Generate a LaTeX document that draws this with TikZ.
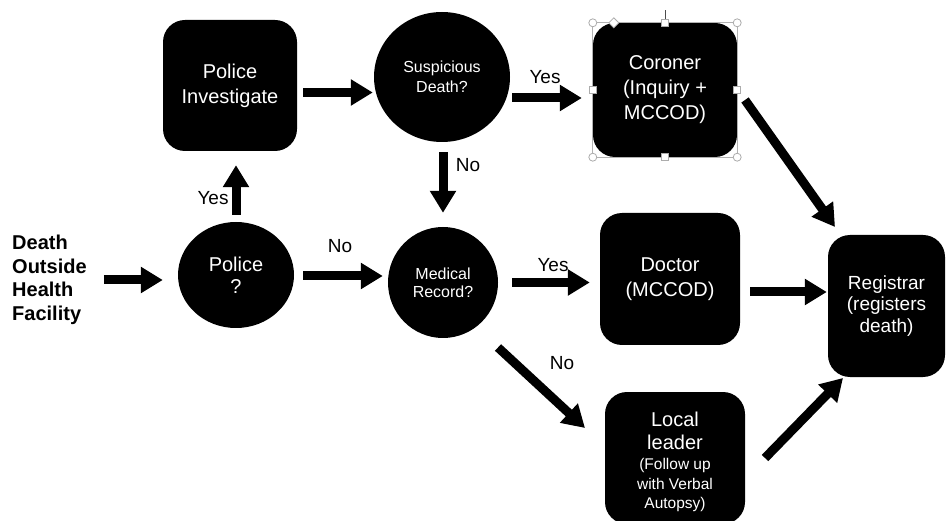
\documentclass[tikz,border=0pt]{standalone}
\usepackage{fontspec}
\setmainfont{Liberation Sans}
\usetikzlibrary{arrows.meta,shapes.geometric,calc}
\begin{document}
\begin{tikzpicture}[x=1pt,y=-1pt,
  box/.style={rectangle, rounded corners=22pt, fill=black, text=white, align=center, inner sep=0pt},
  oval/.style={ellipse, fill=black, text=white, align=center, inner sep=0pt},
  arr/.style={line width=9pt, -{Triangle[length=22pt,width=25pt]}},
  lbl/.style={font=\fontsize{19}{22}\selectfont, inner sep=0pt},
  big/.style={font=\fontsize{20}{25}\selectfont},
  small/.style={font=\fontsize{16}{19.5}\selectfont},
  handle/.style={draw=gray!65, fill=white, line width=0.8pt},
]
\useasboundingbox (0,0) rectangle (948,521);

\node[box, big, minimum width=134pt, minimum height=131pt] (pinv) at (230,85.5) {Police\\Investigate};
\node[oval, small, minimum width=136pt, minimum height=130pt] (susp) at (442,77) {Suspicious\\Death?};
\node[box, big, minimum width=144pt, minimum height=134pt] (cor) at (665,90) {Coroner\\(Inquiry +\\MCCOD)};
\node[oval, font=\fontsize{20}{22}\selectfont, minimum width=116pt, minimum height=106pt] (police) at (236,275) {Police\\?};
\node[oval, font=\fontsize{16}{18}\selectfont, minimum width=110pt, minimum height=111pt] (med) at (443,282.5) {Medical\\Record?};
\node[box, big, minimum width=140pt, minimum height=132pt] (doc) at (670,279) {Doctor\\(MCCOD)};
\node[box, minimum width=140pt, minimum height=132pt] (loc) at (675,458) {};
\node[text=white, align=center, inner sep=0pt, font=\fontsize{15.5}{19.5}\selectfont] (loctext) at (675,462)
  {{\fontsize{20}{23}\selectfont Local}\\[3.5pt]{\fontsize{20}{23}\selectfont leader}\\[1pt](Follow up\\with Verbal\\Autopsy)};
\node[box, minimum width=117pt, minimum height=142pt, font=\fontsize{19}{21.5}\selectfont] (reg) at (886.5,306) {Registrar\\(registers\\death)};
\node[align=left, font=\bfseries\fontsize{20}{23.5}\selectfont, anchor=west, inner sep=0pt] (death) at (12,280) {Death\\Outside\\Health\\Facility};

% selection handles on the Coroner box
\draw[draw=gray!60, line width=0.8pt] (cor.north west) rectangle (cor.south east);
\draw[gray!60!black, line width=0.8pt] (cor.north) -- ++(0,-13);
\foreach \a in {north west, north east, south west, south east}
  \draw[handle] (cor.\a) circle (4pt);
\foreach \a in {north, south, east, west}
  \draw[handle] ([shift={(-3.5,-3.5)}]cor.\a) rectangle ++(7,7);
\draw[handle] ($(cor.north west)+(21,0)$) +(-5,0) -- +(0,-5) -- +(5,0) -- +(0,5) -- cycle;

% connectors
\draw[arr, shorten <=17pt, shorten >=15pt] (death.east) -- (death.east -| police.west);
\draw[arr, shorten <=7pt, shorten >=14pt] (police.north) -- (police.north |- pinv.south);
\draw[arr, shorten <=6pt, shorten >=1pt] ([yshift=-7pt]pinv.east) -- ([yshift=-7pt]pinv.east -| susp.west);
\draw[arr, shorten <=2pt, shorten >=11pt] ([yshift=-21pt]susp.east) -- ([yshift=-21pt]susp.east -| cor.west);
\draw[arr, shorten <=10pt, shorten >=14pt] ([xshift=1pt]susp.south) -- ([xshift=1pt]susp.south |- med.north);
\draw[arr, shorten <=9pt, shorten >=5pt] ([yshift=-1pt]police.east) -- ([yshift=-1pt]police.east -| med.west);
\draw[arr, shorten <=14pt, shorten >=10pt] (med.east) -- (med.east -| doc.west);
\draw[arr] ([shift={(55,65)}]med.center) -- ([shift={(-90,-30)}]loc.center);
\draw[arr] ([shift={(80,10)}]cor.center) -- ([shift={(-51.5,-79)}]reg.center);
\draw[arr, shorten <=10pt, shorten >=1pt] ([yshift=-13pt]doc.east) -- ([yshift=-13pt]doc.east -| reg.west);
\draw[arr] ([shift={(90,0)}]loc.center) -- ([shift={(-43.5,72)}]reg.center);

% labels
\node[lbl] (l1) at (213,198) {Yes};
\node[lbl] (l2) at (545,77) {Yes};
\node[lbl] (l3) at (468,165) {No};
\node[lbl] (l4) at (340,246) {No};
\node[lbl] (l5) at (553,265) {Yes};
\node[lbl] (l6) at (562,363) {No};
\end{tikzpicture}
\end{document}
